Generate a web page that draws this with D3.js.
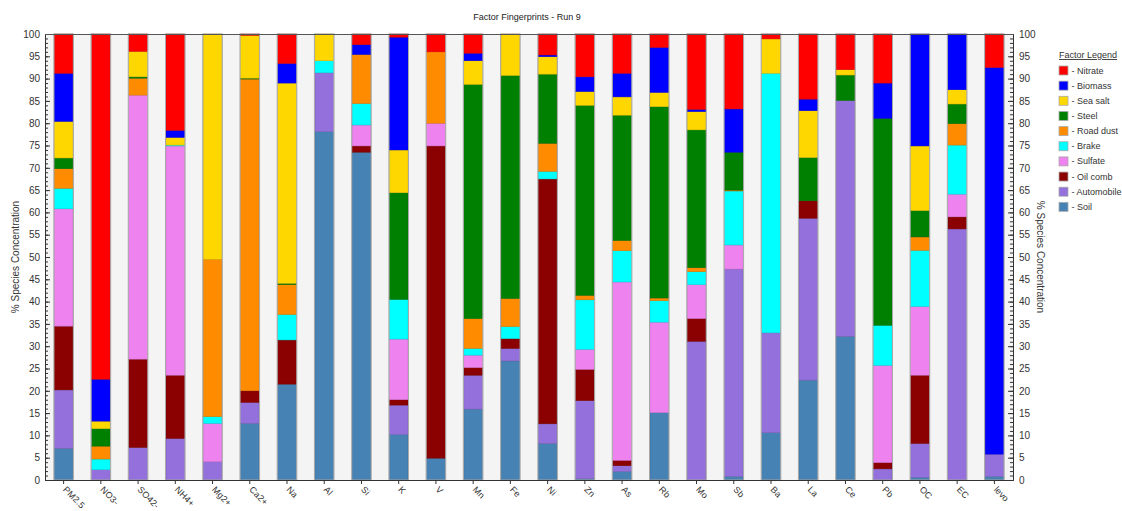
<!DOCTYPE html>
<html>
<head>
<meta charset="utf-8">
<script src="https://cdn.jsdelivr.net/npm/d3@7"></script>
<style>
  html, body { margin: 0; padding: 0; background: #fff; }
  svg { display: block; font-family: "Liberation Sans", Arial, sans-serif; }
</style>
</head>
<body>
<svg id="chart" width="1122" height="511"></svg>
<script>
const categories = ["PM2.5","NO3-","SO42-","NH4+","Mg2+","Ca2+","Na","Al","Si","K","V","Mn","Fe","Ni","Zn","As","Rb","Mo","Sb","Ba","La","Ce","Pb","OC","EC","levo"];

// factor order from bottom to top of each stack
const factors = ["Soil","Automobile","Oil comb","Sulfate","Brake","Road dust","Steel","Sea salt","Biomass","Nitrate"];
const factorColors = ["#4682b4","#9370db","#8b0000","#ee82ee","#00ffff","#ff8c00","#008000","#ffd700","#0000ff","#ff0000"];
const legendOrder = ["Nitrate","Biomass","Sea salt","Steel","Road dust","Brake","Sulfate","Oil comb","Automobile","Soil"];

// % species concentration per factor, one value per category
const soil       = [7.1, 0,   0,    0,    0,    12.7, 21.5, 78.1, 73.5, 10.2, 4.9, 15.9, 26.7, 8.2, 0.3, 1.9, 15.1, 0,    0.8, 10.6, 22.4, 32.2, 0,    0.6, 0,    0.8];
const automobile = [13.1, 2.3, 7.3,  9.3,  4.1,  4.7,  0,    13.2, 0,    6.6,  0,   7.6,  2.8,  4.4, 17.5, 1.3, 0,   31.1, 46.5, 22.4, 36.3, 52.9, 2.5, 7.6, 56.3, 5.0];
const oilComb    = [14.3, 0,   19.8, 14.2, 0,    2.6,  9.9,  0,    1.4,  1.2,  70.0, 1.7, 2.2,  54.9, 7.0, 1.2, 0,   5.1,  0,    0,    3.9,  0,    1.4,  15.3, 2.7, 0];
const sulfate    = [26.3, 0,   59.2, 51.4, 8.6,  0,    0,    0,    4.7,  13.6, 5.1, 2.8,  0,    0,    4.5, 40.0, 20.3, 7.6, 5.4,  0,    0,    0,    21.8, 15.4, 5.1, 0];
const brake      = [4.6,  2.4, 0,    0.2,  1.5,  0,    5.7,  2.7,  4.8,  8.9,  0,   1.5,  2.7,  1.7, 11.1, 7.0, 4.8, 2.9,  12.1, 58.2, 0,    0,    9.0,  12.6, 11.0, 0];
const roadDust   = [4.4,  2.9, 3.8,  0,    35.3, 69.9, 6.7,  0,    11.0, 0,    16.0, 6.7, 6.3,  6.3, 1.0, 2.3, 0.6, 0.9,  0.2,  0,    0,    0,    0,    3.0,  4.8, 0];
const steel      = [2.4,  3.9, 0.3,  0,    0,    0.2,  0.3,  0,    0,    23.9, 0,   52.5, 50.0, 15.5, 42.6, 28.1, 42.9, 30.9, 8.5, 0,   9.7,  5.7,  46.4, 5.9,  4.4, 0];
const seaSalt    = [8.2,  1.7, 5.7,  1.7,  50.5, 9.6,  44.9, 6.0,  0,    9.6,  0,   5.3,  9.3,  3.9, 3.1, 4.1, 3.2, 4.1,  0,    7.7,  10.5, 1.2,  0,    14.5, 3.2, 0];
const biomass    = [10.8, 9.4, 0,    1.6,  0,    0,    4.4,  0,    2.2,  25.3, 0,   1.7,  0,    0.4, 3.3, 5.3, 10.1, 0.5, 9.7,  0,    2.6,  0,    7.9,  25.1, 12.5, 86.7];
const nitrate    = [8.8,  77.4, 3.9, 21.6, 0,    0.3,  6.6,  0,    2.4,  0.7,  4.0, 4.3,  0,    4.7, 9.6, 8.8, 3.0, 16.9, 16.8, 1.1,  14.6, 8.0,  11.0, 0,    0,    7.5];

const seriesValues = [soil, automobile, oilComb, sulfate, brake, roadDust, steel, seaSalt, biomass, nitrate];
const yTicks = d3.range(0, 101, 5);
const yMinorTicks = d3.range(0, 101, 1);

const titleText = "Factor Fingerprints - Run 9";
const yLabel = "% Species Concentration";
const legendTitle = "Factor Legend";

// ---------- build table ----------
const table = categories.map((c, i) => {
  const row = { category: c };
  factors.forEach((f, j) => { row[f] = seriesValues[j][i]; });
  return row;
});
const stacked = d3.stack().keys(factors)(table);
const color = d3.scaleOrdinal().domain(factors).range(factorColors);

// ---------- layout ----------
const svg = d3.select("#chart");
const margin = { left: 45, right: 109, top: 34, bottom: 31 };
const W = 1122, H = 511;
const x = d3.scaleBand().domain(categories)
  .range([margin.left, W - margin.right])
  .paddingInner(0.5).paddingOuter(0.25);
const y = d3.scaleLinear().domain([0, 100]).range([H - margin.bottom, margin.top]);

// plot background
svg.append("rect")
  .attr("x", margin.left).attr("y", margin.top)
  .attr("width", W - margin.right - margin.left)
  .attr("height", H - margin.bottom - margin.top)
  .attr("fill", "#f4f4f4");

// title
svg.append("text")
  .attr("x", (margin.left + W - margin.right) / 2 - 2).attr("y", 20)
  .attr("text-anchor", "middle").attr("font-size", 9).attr("fill", "#222")
  .text(titleText);

// stacked bars
const layer = svg.append("g").selectAll("g").data(stacked).join("g")
  .attr("fill", d => color(d.key));
layer.selectAll("rect").data(d => d).join("rect")
  .attr("x", d => x(d.data.category))
  .attr("width", x.bandwidth())
  .attr("y", d => y(d[1]))
  .attr("height", d => Math.max(0, y(d[0]) - y(d[1])))
  .attr("stroke", function(d) { return d[1] - d[0] > 0 ? d3.color(d3.select(this.parentNode).attr("fill")).darker(0.6) : "none"; })
  .attr("stroke-width", 0.5);

// bar outlines
svg.append("g").selectAll("rect").data(categories).join("rect")
  .attr("x", d => x(d) - 0.5)
  .attr("width", x.bandwidth() + 1)
  .attr("y", y(100))
  .attr("height", y(0) - y(100))
  .attr("fill", "none")
  .attr("stroke", "#a8a8a8")
  .attr("stroke-width", 1);

// axes
const axisColor = "#333";
function styleAxis(g) {
  g.selectAll(".domain").attr("stroke", axisColor);
  g.selectAll(".tick line").attr("stroke", axisColor);
  g.selectAll(".tick text").attr("fill", "#333").attr("font-size", 10)
    .attr("font-family", "'Liberation Sans', Arial, sans-serif");
}

// left minor
svg.append("g").attr("transform", `translate(${margin.left},0)`)
  .call(d3.axisLeft(y).tickValues(yMinorTicks).tickSize(-3).tickFormat(""))
  .call(styleAxis);
// left major
svg.append("g").attr("transform", `translate(${margin.left},0)`)
  .call(d3.axisLeft(y).tickValues(yTicks).tickSize(-5).tickPadding(5).tickSizeOuter(0))
  .call(styleAxis);
// right minor
svg.append("g").attr("transform", `translate(${W - margin.right},0)`)
  .call(d3.axisRight(y).tickValues(yMinorTicks).tickSize(-3).tickFormat(""))
  .call(styleAxis);
// right major
svg.append("g").attr("transform", `translate(${W - margin.right},0)`)
  .call(d3.axisRight(y).tickValues(yTicks).tickSize(-5).tickPadding(6).tickSizeOuter(0))
  .call(styleAxis);

// top border
svg.append("line")
  .attr("x1", margin.left).attr("x2", W - margin.right)
  .attr("y1", margin.top + 0.5).attr("y2", margin.top + 0.5)
  .attr("stroke", "#555");

// bottom axis
const xAxis = svg.append("g").attr("transform", `translate(0,${H - margin.bottom})`)
  .call(d3.axisBottom(x).tickSize(4).tickSizeOuter(0))
  .call(styleAxis);
xAxis.selectAll(".tick text")
  .attr("font-size", 9)
  .attr("letter-spacing", 0.1)
  .attr("text-anchor", "start")
  .attr("x", 0).attr("y", 0).attr("dy", 0)
  .attr("transform", "translate(-1,10) rotate(46)");

// axis titles
svg.append("text")
  .attr("transform", `translate(19,${(margin.top + H - margin.bottom) / 2}) rotate(-90)`)
  .attr("text-anchor", "middle").attr("font-size", 10).attr("fill", "#333")
  .text(yLabel);
svg.append("text")
  .attr("transform", `translate(1037,${(margin.top + H - margin.bottom) / 2}) rotate(90)`)
  .attr("text-anchor", "middle").attr("font-size", 10).attr("fill", "#333")
  .text(yLabel);

// legend
const lg = svg.append("g").attr("transform", "translate(1059,0)");
lg.append("text").attr("x", 0).attr("y", 58)
  .attr("font-size", 9).attr("fill", "#333")
  .attr("text-decoration", "underline")
  .text(legendTitle);
const items = lg.selectAll("g.item").data(legendOrder).join("g")
  .attr("class", "item")
  .attr("transform", (d, i) => `translate(0,${66 + i * 15.15})`);
items.append("rect").attr("width", 9).attr("height", 9)
  .attr("fill", d => color(d)).attr("stroke", "#aaa").attr("stroke-width", 0.8);
items.append("text").attr("x", 12.5).attr("y", 7.5)
  .attr("font-size", 9).attr("fill", "#333")
  .text(d => "- " + d);
</script>
</body>
</html>
